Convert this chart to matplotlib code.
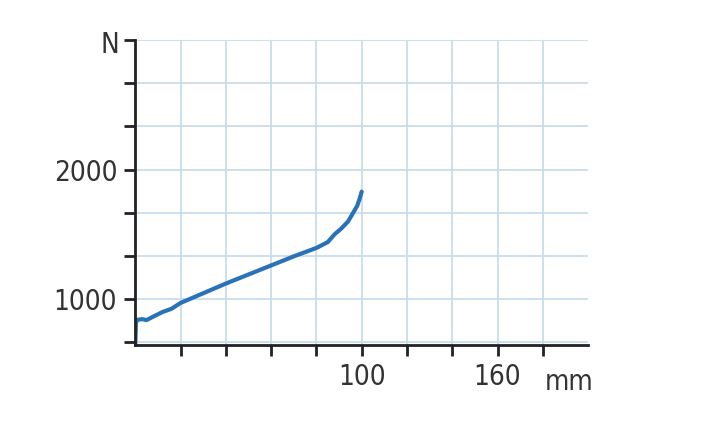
import numpy as np
import matplotlib.pyplot as plt

# force-displacement curve (mm, N)
disp = [0, 0.3, 1, 3, 5, 8, 12, 16, 20, 30, 40, 50, 60, 70, 80, 85, 88, 91, 94, 96, 98, 99, 100]
force = [650, 820, 840, 845, 838, 865, 900, 925, 970, 1045, 1120, 1190, 1260, 1330, 1395, 1440, 1500, 1545, 1600, 1660, 1720, 1770, 1830]

x_ticks = np.arange(20, 200, 20)
x_labels = {100: "100", 160: "160"}
y_ticks = [1000 + 1000 / 3 * k for k in range(-1, 7)]
y_labels = {1000: "1000", 2000: "2000"}

plt.rcParams['font.family'] = ['DejaVu Sans']
plt.rcParams['font.stretch'] = 'condensed'
fig = plt.figure(figsize=(7.12, 4.32), dpi=100)
ax = fig.add_axes([0.19, 0.201, 0.636, 0.706])
ax.plot(disp, force, color='#2a72b8', lw=3, solid_capstyle='round')
ax.set_xlim(0, 200)
ax.set_ylim(644, 2904)
ax.set_xticks(x_ticks)
ax.set_xticklabels([x_labels.get(int(t), "") for t in x_ticks])
ax.set_yticks(y_ticks)
ax.set_yticklabels([y_labels.get(int(round(t)), "") for t in y_ticks])
ax.grid(True, color='#c5dbe8', lw=1.2)
ax.set_axisbelow(True)
for s in ['top', 'right']:
    ax.spines[s].set_visible(False)
for s in ['left', 'bottom']:
    ax.spines[s].set_color('#222222')
    ax.spines[s].set_linewidth(2)
ax.tick_params(direction='out', length=8, width=2, color='#222222',
               labelsize=20, labelcolor='#333333', pad=5)
fig.text(0.155, 0.895, "N", fontsize=20, color='#333333', ha='center', va='center')
fig.text(0.8, 0.115, "mm", fontsize=20, color='#333333', ha='center', va='center')
fig.savefig("out.png")
